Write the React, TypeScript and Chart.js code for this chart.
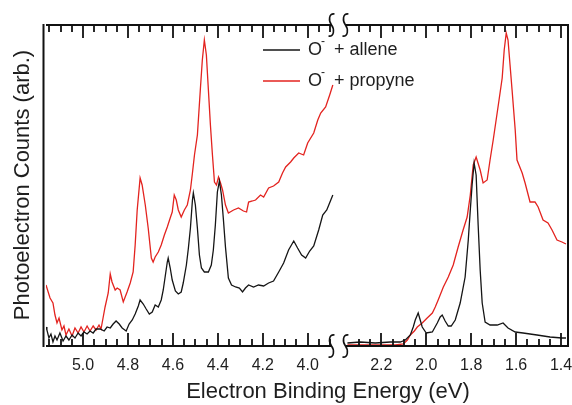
import React, { useEffect, useRef } from 'react';
import { Chart, registerables } from 'chart.js';

Chart.register(...registerables);

// ---------- data (binding energy in eV, photoelectron counts in arb. units) ----------
const reagents = ['allene', 'propyne'];
const seriesColors = ['#151515', '#e3231f'];

// left panel (high binding energy region)
const alleneHighBE: [number, number][] = [
  [5.165, 19], [5.161, 16], [5.152, 8], [5.143, 12], [5.134, 4], [5.125, 10], [5.116, 6], [5.103, 13],
  [5.089, 5], [5.076, 10], [5.063, 6], [5.049, 11], [5.036, 8], [5.022, 13], [5.009, 10], [4.996, 14],
  [4.982, 12], [4.969, 15], [4.955, 13], [4.942, 17], [4.924, 17], [4.906, 15], [4.893, 19], [4.879, 18],
  [4.866, 22], [4.853, 25], [4.839, 22], [4.826, 18], [4.808, 15], [4.795, 22], [4.781, 26], [4.768, 32],
  [4.754, 40], [4.746, 46], [4.732, 42], [4.719, 37], [4.705, 32], [4.692, 34], [4.679, 41], [4.665, 39],
  [4.652, 46], [4.643, 56], [4.634, 70], [4.625, 84], [4.621, 88], [4.612, 78], [4.603, 66], [4.589, 55],
  [4.576, 52], [4.563, 54], [4.554, 63], [4.540, 81], [4.531, 98], [4.522, 118], [4.513, 146], [4.509, 153],
  [4.500, 141], [4.491, 118], [4.482, 91], [4.473, 78], [4.460, 74], [4.442, 74], [4.429, 81], [4.420, 96],
  [4.411, 121], [4.402, 154], [4.393, 165], [4.384, 151], [4.375, 126], [4.366, 99], [4.353, 68], [4.339, 61],
  [4.321, 59], [4.304, 58], [4.290, 54], [4.277, 58], [4.263, 61], [4.241, 59], [4.219, 61], [4.196, 60],
  [4.174, 63], [4.152, 65], [4.129, 74], [4.107, 83], [4.085, 96], [4.062, 105], [4.045, 98], [4.027, 91],
  [4.009, 88], [3.991, 95], [3.973, 100], [3.951, 116], [3.933, 131], [3.915, 136], [3.897, 146], [3.888, 151],
];

const propyneHighBE: [number, number][] = [
  [5.165, 61], [5.147, 48], [5.134, 43], [5.125, 31], [5.116, 23], [5.107, 28], [5.094, 16], [5.085, 20],
  [5.076, 11], [5.063, 17], [5.049, 10], [5.036, 18], [5.022, 13], [5.009, 19], [4.996, 14], [4.982, 20],
  [4.969, 15], [4.955, 20], [4.942, 16], [4.929, 21], [4.920, 17], [4.911, 28], [4.902, 39], [4.888, 53],
  [4.879, 72], [4.871, 64], [4.857, 56], [4.848, 58], [4.835, 56], [4.821, 44], [4.804, 54], [4.790, 63],
  [4.777, 74], [4.768, 101], [4.759, 136], [4.746, 168], [4.737, 161], [4.723, 141], [4.710, 118], [4.696, 88],
  [4.688, 84], [4.679, 89], [4.665, 94], [4.652, 101], [4.638, 111], [4.625, 119], [4.612, 128], [4.603, 134],
  [4.594, 151], [4.585, 146], [4.576, 136], [4.563, 129], [4.549, 136], [4.536, 141], [4.522, 156], [4.513, 173],
  [4.504, 191], [4.491, 211], [4.478, 256], [4.469, 286], [4.460, 306], [4.451, 291], [4.442, 256], [4.433, 221],
  [4.424, 191], [4.415, 164], [4.406, 161], [4.397, 169], [4.388, 163], [4.379, 156], [4.366, 141], [4.353, 133],
  [4.330, 136], [4.308, 138], [4.286, 135], [4.272, 134], [4.263, 144], [4.246, 145], [4.232, 146], [4.210, 151],
  [4.196, 149], [4.174, 158], [4.152, 160], [4.129, 164], [4.112, 173], [4.098, 179], [4.076, 184], [4.062, 188],
  [4.040, 193], [4.018, 191], [4.000, 203], [3.973, 213], [3.955, 226], [3.942, 233], [3.920, 239], [3.902, 251],
  [3.888, 261],
];

// right panel (low binding energy region)
const alleneLowBE: [number, number][] = [
  [2.351, 3], [2.293, 4], [2.227, 3], [2.160, 4], [2.116, 4], [2.093, 6], [2.071, 11], [2.058, 19],
  [2.049, 26], [2.036, 33], [2.027, 26], [2.018, 19], [2.000, 13], [1.973, 14], [1.951, 23], [1.938, 29],
  [1.929, 31], [1.916, 25], [1.902, 20], [1.889, 20], [1.871, 26], [1.849, 43], [1.827, 69], [1.813, 106],
  [1.804, 136], [1.796, 161], [1.787, 183], [1.778, 171], [1.769, 121], [1.760, 76], [1.751, 43], [1.738, 24],
  [1.716, 21], [1.684, 21], [1.658, 23], [1.636, 18], [1.604, 14], [1.569, 13], [1.507, 11], [1.449, 9],
  [1.396, 8], [1.378, 8],
];

const propyneLowBE: [number, number][] = [
  [2.351, 1], [2.293, 1], [2.204, 1], [2.138, 1], [2.102, 2], [2.084, 6], [2.071, 11], [2.053, 15],
  [2.040, 19], [2.018, 23], [1.996, 28], [1.973, 33], [1.960, 39], [1.947, 46], [1.924, 59], [1.902, 69],
  [1.880, 81], [1.858, 99], [1.836, 116], [1.818, 129], [1.804, 151], [1.791, 181], [1.778, 189], [1.760, 176],
  [1.747, 163], [1.729, 166], [1.716, 186], [1.702, 206], [1.689, 226], [1.676, 246], [1.662, 268], [1.653, 296],
  [1.644, 313], [1.636, 306], [1.627, 281], [1.618, 256], [1.604, 216], [1.596, 186], [1.573, 173], [1.560, 163],
  [1.538, 144], [1.516, 144], [1.502, 139], [1.480, 126], [1.458, 123], [1.440, 116], [1.418, 106], [1.396, 104],
  [1.378, 102],
];

// axis ranges (eV) of the two panels of the broken axis, and the gap between them
const panelA = [5.165, 3.885];
const panelB = [2.351, 1.369];
const gapEV = 0.062;
const countsRange = [0, 322];

// tick labels
const majorTicksA = [5.0, 4.8, 4.6, 4.4, 4.2, 4.0];
const majorTicksB = [2.2, 2.0, 1.8, 1.6, 1.4];
const minorRangeA = [5.15, 3.9];
const minorRangeB = [2.3, 1.4];
const minorStep = 0.05;

const xTitle = 'Electron Binding Energy (eV)';
const yTitle = 'Photoelectron Counts (arb.)';

const FONT = '"Liberation Sans", Arial, Helvetica, sans-serif';
const TEXT = '#1e1e1e';

function minorTicks(range: number[]) {
  const out: number[] = [];
  const n = Math.round((range[0] - range[1]) / minorStep);
  for (let i = 0; i <= n; i++) out.push(+(range[0] - i * minorStep).toFixed(3));
  return out;
}

function squiggle(ctx: CanvasRenderingContext2D, x: number, y: number) {
  ctx.beginPath();
  ctx.moveTo(x + 3, y - 11);
  ctx.bezierCurveTo(x - 3, y - 12, x - 3, y - 4, x, y);
  ctx.bezierCurveTo(x + 3, y + 4, x + 3, y + 12, x - 3, y + 11);
  ctx.stroke();
}

const brokenAxisPlugin = {
  id: 'brokenAxis',
  afterDraw(chart: any) {
    const { ctx, chartArea: ca, scales } = chart;
    const xA = scales.xA;
    const xB = scales.xB;
    const aStart = xA.getPixelForValue(panelA[0]);
    const aEnd = xA.getPixelForValue(panelA[1]);
    const bStart = xB.getPixelForValue(panelB[0]);
    const sq1 = aEnd - 2;
    const sq2 = bStart - 2;
    const topY = ca.top + 1;
    const botY = ca.bottom;

    ctx.save();
    ctx.strokeStyle = '#111';
    ctx.lineWidth = 2;
    ctx.lineCap = 'butt';

    const line = (x1: number, y1: number, x2: number, y2: number) => {
      ctx.beginPath();
      ctx.moveTo(x1, y1);
      ctx.lineTo(x2, y2);
      ctx.stroke();
    };

    // frame
    line(ca.left - 2.5, ca.top, ca.left - 2.5, ca.bottom + 1);
    line(ca.right, ca.top, ca.right, ca.bottom + 1);
    for (const y of [topY, botY]) {
      line(aStart, y, sq1, y);
      line(sq2, y, ca.right + 1, y);
    }

    // ticks (inward)
    ctx.lineWidth = 1.8;
    const drawTicks = (scale: any, minors: number[], majors: number[]) => {
      for (const v of minors) {
        const isMajor = majors.some((m) => Math.abs(m - v) < 1e-6);
        const len = isMajor ? 13 : 7;
        const px = Math.round(scale.getPixelForValue(v)) + 0.0;
        line(px, topY, px, topY + len);
        line(px, botY, px, botY - len);
      }
    };
    drawTicks(xA, minorTicks(minorRangeA), majorTicksA);
    drawTicks(xB, minorTicks(minorRangeB), majorTicksB);

    // break marks
    ctx.lineWidth = 1.6;
    for (const y of [topY, botY]) {
      squiggle(ctx, sq1, y);
      squiggle(ctx, sq2, y);
    }

    // tick labels
    ctx.fillStyle = TEXT;
    ctx.font = `16px ${FONT}`;
    ctx.textAlign = 'center';
    ctx.textBaseline = 'middle';
    for (const v of majorTicksA) ctx.fillText(v.toFixed(1), xA.getPixelForValue(v), botY + 20);
    for (const v of majorTicksB) ctx.fillText(v.toFixed(1), xB.getPixelForValue(v), botY + 20);

    // x axis title
    ctx.font = `22px ${FONT}`;
    ctx.fillText(xTitle, 328, botY + 46);

    // legend
    const legendX = 263;
    const legendY = [50, 81];
    reagents.forEach((name, i) => {
      const y = legendY[i];
      ctx.strokeStyle = seriesColors[i];
      ctx.lineWidth = 1.3;
      line(legendX, y, legendX + 37, y);
      ctx.fillStyle = TEXT;
      ctx.textAlign = 'left';
      ctx.textBaseline = 'middle';
      ctx.font = `18px ${FONT}`;
      ctx.fillText('O', legendX + 45, y);
      ctx.font = `12px ${FONT}`;
      ctx.fillText('-', legendX + 58, y - 8);
      ctx.font = `18px ${FONT}`;
      ctx.fillText('+ ' + name, legendX + 71, y);
    });
    ctx.restore();
  },
};

const span = panelA[0] - panelA[1] + gapEV + (panelB[0] - panelB[1]);

export default function App() {
  const canvasRef = useRef<HTMLCanvasElement | null>(null);

  useEffect(() => {
    if (!canvasRef.current) return;
    const toXY = (arr: [number, number][]) => arr.map(([x, y]) => ({ x, y }));
    const mk = (label: string, data: [number, number][], color: string, axis: string) => ({
      label,
      data: toXY(data),
      xAxisID: axis,
      yAxisID: 'y',
      borderColor: color,
      backgroundColor: color,
      borderWidth: 1.3,
      pointRadius: 0,
      tension: 0,
      fill: false,
    });
    const chart = new Chart(canvasRef.current, {
      type: 'line',
      data: {
        datasets: [
          mk('O⁻ + ' + reagents[0], alleneHighBE, seriesColors[0], 'xA'),
          mk('O⁻ + ' + reagents[0], alleneLowBE, seriesColors[0], 'xB'),
          mk('O⁻ + ' + reagents[1], propyneHighBE, seriesColors[1], 'xA'),
          mk('O⁻ + ' + reagents[1], propyneLowBE, seriesColors[1], 'xB'),
        ],
      },
      options: {
        responsive: false,
        animation: false,
        events: [],
        layout: { padding: { left: 6, right: 4, top: 24, bottom: 59 } },
        plugins: { legend: { display: false }, tooltip: { enabled: false } },
        scales: {
          xA: {
            type: 'linear',
            axis: 'x',
            position: 'bottom',
            reverse: true,
            min: panelA[0] - span,
            max: panelA[0],
            display: false,
          },
          xB: {
            type: 'linear',
            axis: 'x',
            position: 'bottom',
            reverse: true,
            min: panelB[1],
            max: panelB[1] + span,
            display: false,
          },
          y: {
            type: 'linear',
            position: 'left',
            min: countsRange[0],
            max: countsRange[1],
            ticks: { display: false },
            grid: { display: false, drawTicks: false },
            border: { display: false },
            title: {
              display: true,
              text: yTitle,
              color: TEXT,
              font: { family: FONT, size: 22 },
              padding: { top: 4, bottom: 9.6 },
            },
          },
        },
      },
      plugins: [brokenAxisPlugin],
    } as any);
    return () => chart.destroy();
  }, []);

  return (
    <div style={{ position: 'absolute', left: 0, top: 0, width: 572, height: 405, background: '#fff' }}>
      <canvas ref={canvasRef} width={572} height={405} style={{ display: 'block' }} />
    </div>
  );
}
